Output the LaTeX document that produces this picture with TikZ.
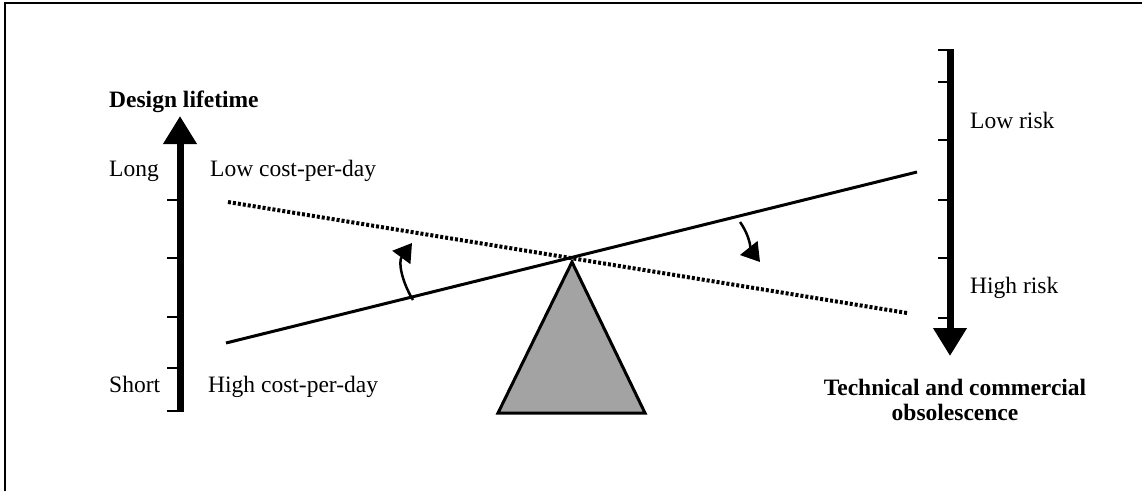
\documentclass[tikz,border=0pt]{standalone}
\usepackage{fontspec}
\setmainfont{Liberation Serif}
\usetikzlibrary{arrows.meta}
\begin{document}
\begin{tikzpicture}[x=1pt,y=-1pt,
  lbl/.style={font=\fontsize{23.5}{27}\selectfont, inner sep=0pt, anchor=base west},
  ttl/.style={font=\fontsize{23.5}{25}\selectfont\bfseries, inner sep=0pt},
  axisarrow/.style={line width=7pt, -{Triangle[length=28pt,width=32pt]}},
  tickmark/.style={line width=2pt},
  frame/.style={line width=2pt},
  beam/.style={line width=3pt},
  dotbeam/.style={line width=4pt, dash pattern=on 3pt off 2pt},
  turn/.style={line width=2.5pt, -{Triangle[length=18pt,width=22pt]}},
  fulcrum/.style={draw, line width=3pt, fill=black!36, line join=miter}]
\useasboundingbox (0,0) rectangle (1142,491);
% frame (only top and left edges visible)
\coordinate (f0) at (5,491);
\coordinate (f1) at (5,3);
\coordinate (f2) at (1142,3);
\draw[frame] (f0) -- (f1) -- (f2);

% left axis
\coordinate (la0) at (180,412);
\coordinate (la1) at (180,116);
\draw[axisarrow] (la0) -- (la1);
\foreach \y/\n in {200/a,258/b,317/c,368/d,411/e}{
  \coordinate (lt\n) at (167,\y);
  \coordinate (ls\n) at (180,\y);
  \draw[tickmark] (lt\n) -- (ls\n);
}
\node[ttl, anchor=base west] (dl) at (109,107) {Design lifetime};
\node[lbl] (long) at (109,176) {Long};
\node[lbl] (short) at (109,392) {Short};
\node[lbl] (lcpd) at (210,176) {Low cost-per-day};
\node[lbl] (hcpd) at (208,392) {High cost-per-day};

% right axis
\coordinate (ra0) at (950,49);
\coordinate (ra1) at (950,356);
\draw[axisarrow] (ra0) -- (ra1);
\foreach \y/\n in {50/a,82/b,140/c,200/d,258/e,318/f}{
  \coordinate (rt\n) at (938,\y);
  \coordinate (rs\n) at (950,\y);
  \draw[tickmark] (rt\n) -- (rs\n);
}
\node[lbl] (lr) at (970,128) {Low risk};
\node[lbl] (hr) at (970,293) {High risk};
\node[ttl, align=center, anchor=base] (tco) at (955,420) {Technical and commercial\\obsolescence};

% fulcrum
\coordinate (p0) at (572,262);
\coordinate (p1) at (498,413);
\coordinate (p2) at (645,413);
\filldraw[fulcrum] (p0) -- (p1) -- (p2) -- cycle;

% beams
\coordinate (s0) at (226,343);
\coordinate (s1) at (917,172);
\draw[beam] (s0) -- (s1);
\coordinate (d0) at (228,202);
\coordinate (d1) at (907,313);
\draw[dotbeam] (d0) -- (d1);

% rotation arrows
\coordinate (ca0) at (413,300);
\coordinate (ca1) at (412,243);
\draw[turn] (ca0) .. controls (402,282) and (398,262) .. (ca1);
\coordinate (cb0) at (740,222);
\coordinate (cb1) at (760,262);
\draw[turn] (cb0) .. controls (750,236) and (752,252) .. (cb1);
\end{tikzpicture}
\end{document}
